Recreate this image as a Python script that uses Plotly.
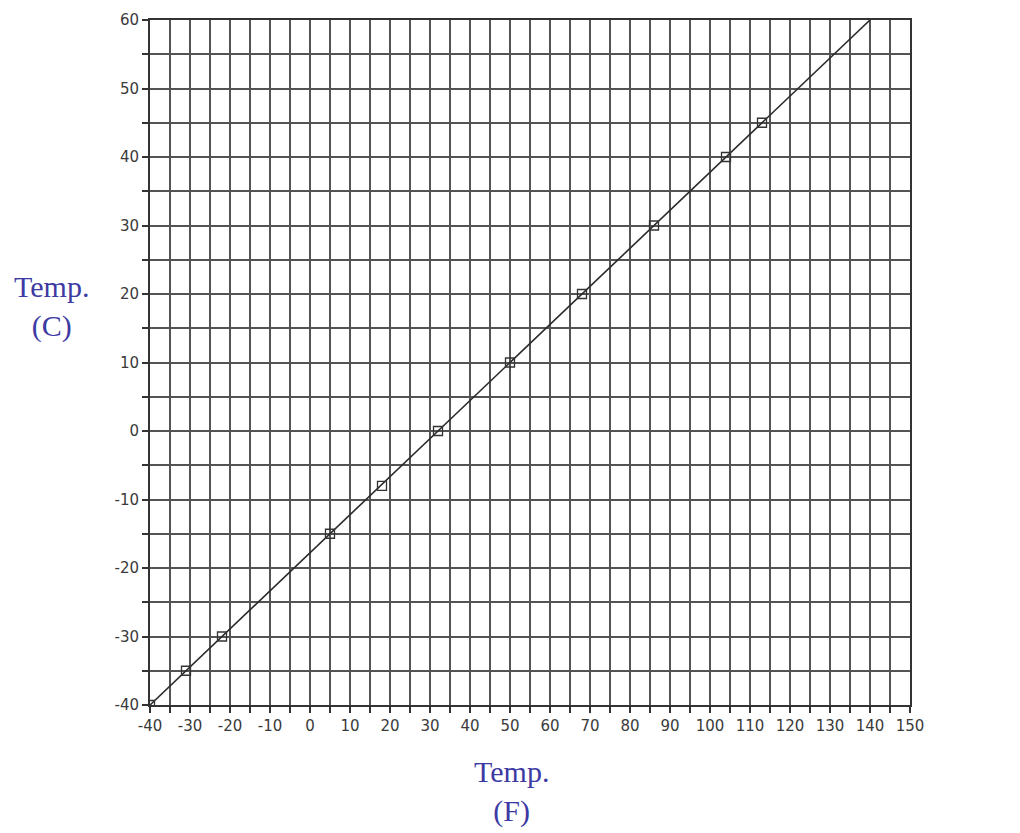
import plotly.graph_objects as go

# Data
temp_f = [-40, -31, -22, 5, 18, 32, 50, 68, 86, 104, 113]
temp_c = [-40, -35, -30, -15, -8, 0, 10, 20, 30, 40, 45]
line_f = [-40, 140]
line_c = [-40, 60]

x_ticks = list(range(-40, 155, 5))
x_text = [str(v) if v % 10 == 0 else "" for v in x_ticks]
y_ticks = list(range(-40, 65, 5))
y_text = [str(v) if v % 10 == 0 else "" for v in y_ticks]

grid_col = "#555353"

fig = go.Figure()
fig.add_trace(go.Scatter(x=line_f, y=line_c, mode="lines",
                         line=dict(color="#2a2a2a", width=1.6),
                         hoverinfo="skip", showlegend=False))
fig.add_trace(go.Scatter(x=temp_f, y=temp_c, mode="markers",
                         marker=dict(symbol="square-open", size=9,
                                     color="#333333", line=dict(width=1.3)),
                         showlegend=False))

fig.update_layout(
    width=1020, height=833,
    margin=dict(l=142, r=118, t=12, b=136),
    paper_bgcolor="white", plot_bgcolor="white",
    font=dict(family="DejaVu Sans, Arial, sans-serif", color="#3a3a3a", size=15),
)
fig.update_xaxes(range=[-40, 150], tickvals=x_ticks, ticktext=x_text,
                 automargin=False,
                 showgrid=True, gridcolor=grid_col, gridwidth=1.6,
                 zeroline=False, showline=True, linecolor="#333333", linewidth=2,
                 mirror=True, ticks="outside", ticklen=6, tickcolor="#333333",
                 tickwidth=1.5, tickangle=0,
                 tickfont=dict(family="DejaVu Sans, sans-serif", size=15, color="#3a3a3a"))
fig.update_yaxes(range=[-40, 60], tickvals=y_ticks, ticktext=y_text,
                 automargin=False,
                 showgrid=True, gridcolor=grid_col, gridwidth=1.6,
                 zeroline=False, showline=True, linecolor="#333333", linewidth=2,
                 mirror=True, ticks="outside", ticklen=6, tickcolor="#333333",
                 tickwidth=1.5,
                 tickfont=dict(family="DejaVu Sans, sans-serif", size=15, color="#3a3a3a"))

title_font = dict(family="Liberation Serif, Times New Roman, serif", size=30, color="#3d3aa3")
fig.add_annotation(text="Temp.<br>(C)", xref="paper", yref="paper",
                   x=-0.129, y=0.582, showarrow=False, align="center",
                   xanchor="center", yanchor="middle", font=title_font)
fig.add_annotation(text="Temp.<br>(F)", xref="paper", yref="paper",
                   x=0.476, y=-0.126, showarrow=False, align="center",
                   xanchor="center", yanchor="middle", font=title_font)

fig.write_html("out.html")
